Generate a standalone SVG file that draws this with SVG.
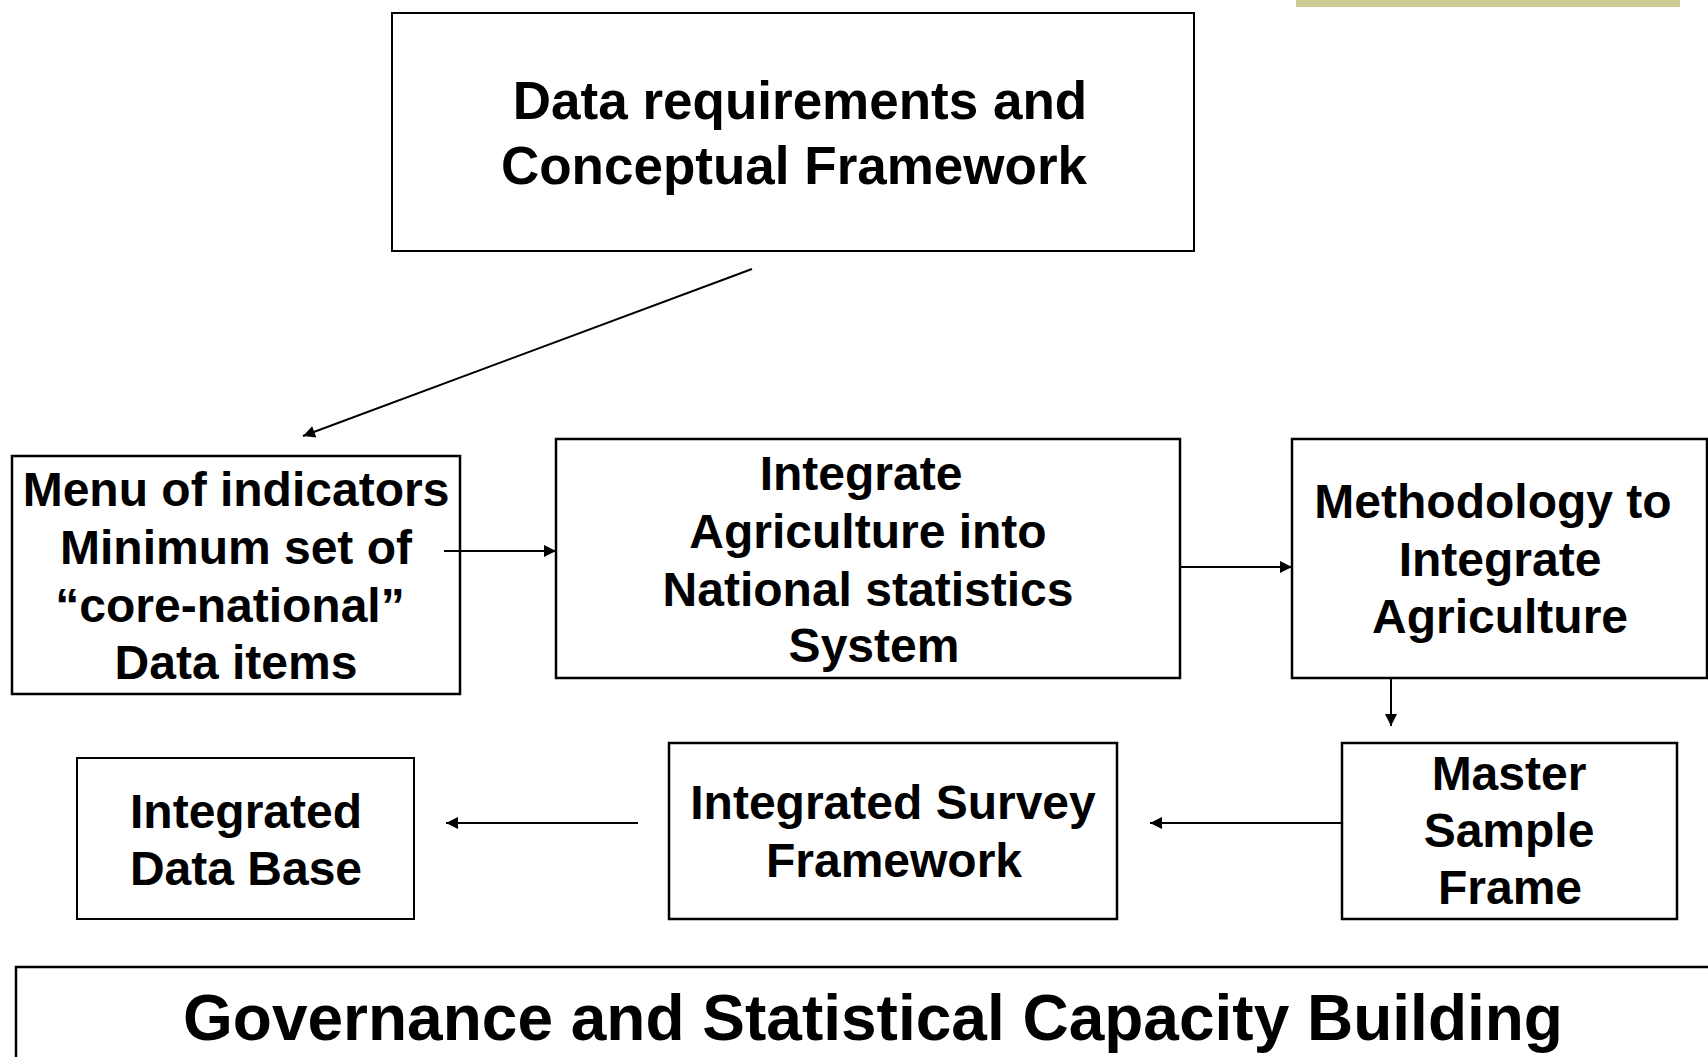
<svg xmlns="http://www.w3.org/2000/svg" width="1708" height="1057" viewBox="0 0 1708 1057">
<defs>
<style>
.box{fill:#fff;stroke:#000;stroke-width:2.5}
.t{font-family:"Liberation Sans",Arial,sans-serif;font-weight:bold;fill:#000;text-anchor:middle}
.c{stroke:#000;stroke-width:2;fill:none;marker-end:url(#ah)}
</style>
<marker id="ah" viewBox="0 0 10 10" refX="10" refY="5" markerWidth="7" markerHeight="6" markerUnits="strokeWidth" orient="auto">
<path d="M0,0 L10,5 L0,10 z" fill="#000"/>
</marker>
</defs>
<rect x="0" y="0" width="1708" height="1057" fill="#fff"/>
<rect x="1296" y="0" width="384" height="7" fill="#CDCC96"/>

<g id="conceptual">
<rect class="box" x="392" y="13" width="802" height="238" style="stroke-width:2"/>
<text class="t" font-size="53" x="800" y="119">Data requirements and</text>
<text class="t" font-size="53" x="794" y="184">Conceptual Framework</text>
</g>

<g id="menu">
<rect class="box" x="12" y="456" width="448" height="238"/>
<text class="t" font-size="48" x="236" y="506">Menu of indicators</text>
<text class="t" font-size="48" x="236" y="564">Minimum set of</text>
<text class="t" font-size="48" x="230" y="622">“core-national”</text>
<text class="t" font-size="48" x="236" y="679">Data items</text>
</g>

<g id="integrate">
<rect class="box" x="556" y="439" width="624" height="239"/>
<text class="t" font-size="48" x="861" y="490">Integrate</text>
<text class="t" font-size="48" x="868" y="548">Agriculture into</text>
<text class="t" font-size="48" x="868" y="606">National statistics</text>
<text class="t" font-size="48" x="874" y="662">System</text>
</g>

<g id="methodology">
<rect class="box" x="1292" y="439" width="415" height="239"/>
<text class="t" font-size="48" x="1493" y="518">Methodology to</text>
<text class="t" font-size="48" x="1500" y="576">Integrate</text>
<text class="t" font-size="48" x="1500" y="633">Agriculture</text>
</g>

<g id="master">
<rect class="box" x="1342" y="743" width="335" height="176"/>
<text class="t" font-size="48" x="1509" y="790">Master</text>
<text class="t" font-size="48" x="1509" y="847">Sample</text>
<text class="t" font-size="48" x="1510" y="904">Frame</text>
</g>

<g id="survey">
<rect class="box" x="669" y="743" width="448" height="176"/>
<text class="t" font-size="48" x="893" y="819">Integrated Survey</text>
<text class="t" font-size="48" x="894" y="877">Framework</text>
</g>

<g id="database">
<rect class="box" x="77" y="758" width="337" height="161" style="stroke-width:2"/>
<text class="t" font-size="48" x="246" y="828">Integrated</text>
<text class="t" font-size="48" x="246" y="885">Data Base</text>
</g>

<g id="governance">
<rect class="box" x="16" y="967" width="1720" height="140"/>
<text class="t" font-size="64" x="873" y="1040">Governance and Statistical Capacity Building</text>
</g>

<g id="connectors">
<line class="c" x1="752" y1="269" x2="303" y2="436"/>
<line class="c" x1="444" y1="551" x2="556" y2="551"/>
<line class="c" x1="1180" y1="567" x2="1292" y2="567"/>
<line class="c" x1="1391" y1="679" x2="1391" y2="726"/>
<line class="c" x1="1342" y1="823" x2="1150" y2="823"/>
<line class="c" x1="638" y1="823" x2="446" y2="823"/>
</g>
</svg>
